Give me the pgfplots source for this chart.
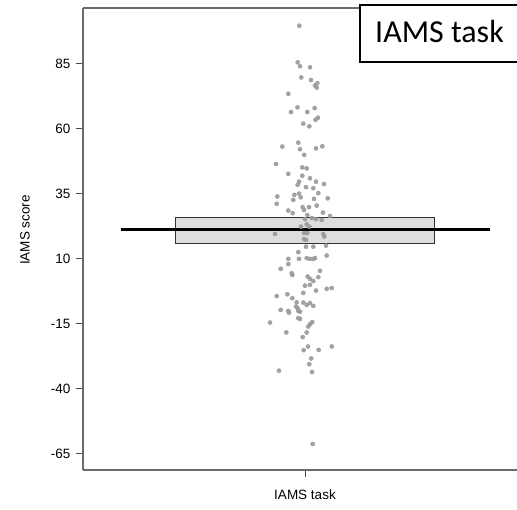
\documentclass[border=0pt]{standalone}
\usepackage{pgfplots}
\pgfplotsset{compat=1.18}
\usepackage{fontspec}
\setmainfont{Liberation Sans}
\newfontfamily\calibri{Carlito}
\begin{document}
\begin{tikzpicture}[x=1pt,y=1pt]
\begin{axis}[
  at={(83pt,39pt)}, anchor=south west,
  scale only axis, width=444pt, height=462pt,
  xmin=-222, xmax=222, ymin=-71.2, ymax=106.5,
  separate axis lines,
  axis x line=bottom, axis y line=left,
  axis line style={draw=gray!85!black, line width=1.2pt, -},
  ytick={-65,-40,-15,10,35,60,85},
  xtick={0}, xticklabels={IAMS task},
  tick align=outside,
  major tick length=7pt,
  tick style={draw=gray!60!black, line width=1pt},
  tick label style={font=\fontsize{13.5}{15}\selectfont},
  /pgf/number format/assume math mode=true,
  yticklabel style={xshift=-2pt},
  xticklabel style={yshift=-9pt},
  clip=false,
]
\addplot[only marks, mark=*, mark size=2.1pt, color=gray!80, mark options={draw=gray!80, fill=gray!80, fill opacity=0.9, draw opacity=0.9}] coordinates {
(-5.7,99.7) (-7.3,85.6) (-5,84.1) (5,83.7) (-3.7,79.8) (6,78.8) (12.3,77.6) (10,76.7) (11.7,75.9)
(-16.7,73.5) (-7.5,68.3) (-14,66.5) (2.3,66.5) (9.7,68.0) (13,64.3) (10.5,63.5) (-1.7,62.0) (4.3,61.0)
(-22.7,53.2) (-6.7,54.7) (-5,52.2) (-0.8,50.0) (11,52.5) (17.3,53.3) (-29,46.5) (-2.7,45.2) (1.7,44.8)
(-16.7,42.7) (-2.7,42.0) (5,41.0) (-6,39.7) (11,39.7) (19,38.8) (-7.3,38.5) (1,37.6) (8.3,37.2)
(13.3,35.3) (-10.7,34.6) (-6,35.1) (-4.3,33.7) (-11.7,32.7) (9,33.1) (22.7,33.3) (-27.7,34.0)
(-28.3,31.2) (-2.3,29.9) (-1,28.8) (4,29.9) (11.7,30.5) (-16.7,28.6) (-12.3,27.6) (18,27.8) (25,26.5)
(2.3,26.9) (0,25.3) (6.7,25.7) (11,25.3) (-4,22.4) (1.7,23.3) (4.3,22.4) (-30,19.6) (-1,19.9)
(2.3,19.9) (18.3,19.6) (19.3,18.6) (-1,17.6) (1,17.3) (16.7,25.0)
(1,14.7) (8.3,14.7) (21,15.1) (-6.7,12.6) (21.7,11.3) (-16.7,10) (-6,10) (1.7,10.3) (5,10) (8.3,10)
(10,10.3) (-16.7,8.0) (-24.3,6.2) (-13.3,4.5) (-12.7,3.8) (15,5.4) (2.7,3.2) (5,2.3) (8.3,1.5)
(13.3,3.0) (0,-0.3) (5,0.0) (11,-2.2) (21.7,-1.5) (26.7,-1.2) (-1.7,-3.1) (-28.3,-4.3) (-17.7,-3.6)
(-12.7,-5.1) (-8.3,-6.7) (1.7,-7.7) (5,-7.0) (8.3,-8.1) (-1.7,-6.8) (-9,-8.3) (-7.3,-9.0) (-24.3,-9.6)
(-16.7,-10.0) (-16,-10.7) (-6.7,-10.0) (-5,-10.3) (-6.7,-12.8) (-5,-13.1) (-35,-14.5) (7.3,-14.3)
(5,-15.1) (3.3,-16.0) (-18.7,-18.3) (1.7,-18.3) (-2.3,-20.1) (3,-23.7) (-1.3,-25.1) (13.7,-25.0)
(26.8,-23.7) (6.2,-28.3) (4.3,-30.5) (-26,-33.0) (7,-33.5) (7.7,-61.2)
};
\addplot[draw=black!80, line width=1.3pt, fill=gray!35, fill opacity=0.75] coordinates {
(-129.5,16.0) (129.5,16.0) (129.5,25.9) (-129.5,25.9) (-129.5,16.0)
} -- cycle;
\addplot[black, line width=3pt] coordinates {(-184,21.2) (185,21.2)};
\draw[gray!85!black, line width=1.2pt] (axis cs:-222,106.5) -- (axis cs:222,106.5);
\end{axis}
\node[rotate=90, font=\fontsize{13.5}{15}\selectfont] at (25pt,279pt) {IAMS score};
\fill[white] (360pt,447pt) rectangle (530pt,504pt);
\draw[black, line width=1.5pt] (530pt,447pt) -- (360pt,447pt) -- (360pt,504pt) -- (530pt,504pt);
\node[anchor=base west, inner sep=0pt, font=\calibri\fontsize{32}{36}\selectfont] at (375pt,466pt) {IAMS task};
\pgfresetboundingbox
\useasboundingbox (0pt,0pt) rectangle (517pt,509pt);
\end{tikzpicture}
\end{document}
